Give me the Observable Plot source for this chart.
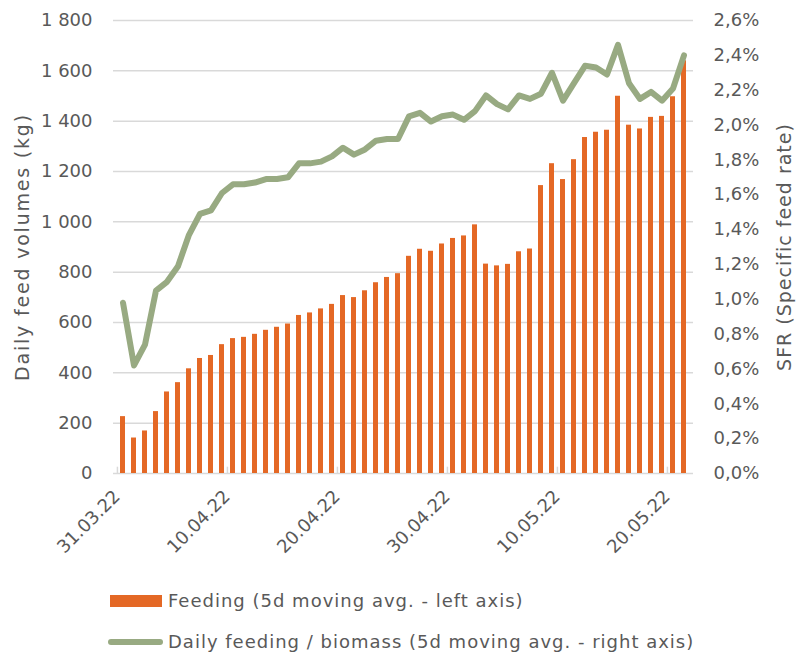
<!DOCTYPE html>
<html>
<head>
<meta charset="utf-8">
<script src="https://cdn.jsdelivr.net/npm/d3@7"></script>
<script src="https://cdn.jsdelivr.net/npm/@observablehq/plot@0.6"></script>
<style>
  body { margin: 0; background: #fff; }
  #wrap { position: relative; width: 796px; height: 654px; font-family: "DejaVu Sans", sans-serif; color: #595959; }
  .lg-text { position: absolute; left: 168px; font-size: 18px; line-height: 20px; letter-spacing: 1px; white-space: nowrap; color: #595959; }
</style>
</head>
<body>
<div id="wrap"></div>
<script>
// ---- data ----
const dates = [
  "31.03.22","01.04.22","02.04.22","03.04.22","04.04.22","05.04.22","06.04.22","07.04.22","08.04.22","09.04.22",
  "10.04.22","11.04.22","12.04.22","13.04.22","14.04.22","15.04.22","16.04.22","17.04.22","18.04.22","19.04.22",
  "20.04.22","21.04.22","22.04.22","23.04.22","24.04.22","25.04.22","26.04.22","27.04.22","28.04.22","29.04.22",
  "30.04.22","01.05.22","02.05.22","03.05.22","04.05.22","05.05.22","06.05.22","07.05.22","08.05.22","09.05.22",
  "10.05.22","11.05.22","12.05.22","13.05.22","14.05.22","15.05.22","16.05.22","17.05.22","18.05.22","19.05.22",
  "20.05.22","21.05.22"
];
const feed = [
  226,141,169,246,324,361,416,457,469,512,
  536,541,553,569,581,594,628,638,654,672,
  707,699,726,758,779,794,863,891,883,912,
  934,944,988,832,825,831,881,892,1144,1231,
  1168,1247,1335,1356,1364,1499,1384,1369,1415,1419,
  1497,1640
];
const sfr = [
  0.98,0.62,0.74,1.05,1.10,1.19,1.37,1.49,1.51,1.61,
  1.66,1.66,1.67,1.69,1.69,1.70,1.78,1.78,1.79,1.82,
  1.87,1.83,1.86,1.91,1.92,1.92,2.05,2.07,2.02,2.05,
  2.06,2.03,2.08,2.17,2.12,2.09,2.17,2.15,2.18,2.30,
  2.14,2.24,2.34,2.33,2.29,2.46,2.24,2.15,2.19,2.14,
  2.21,2.40
];
const xTickLabels = ["31.03.22","10.04.22","20.04.22","30.04.22","10.05.22","20.05.22"];
const leftTicks = [0,200,400,600,800,1000,1200,1400,1600,1800];
const rightTicks = [0,0.2,0.4,0.6,0.8,1.0,1.2,1.4,1.6,1.8,2.0,2.2,2.4,2.6];
const leftMax = 1800, rightMax = 2.6;
const leftTitle = "Daily feed volumes (kg)";
const rightTitle = "SFR (Specific feed rate)";
const legendBar = "Feeding (5d moving avg. - left axis)";
const legendLine = "Daily feeding / biomass (5d moving avg. - right axis)";

const orange = "#E46825";
const green = "#98AA82";
const grid = "#D9D9D9";
const ink = "#595959";

const table = dates.map((d, i) => ({date: d, feed: feed[i], sfr: sfr[i]}));
const toLeft = v => v * leftMax / rightMax;
const loc = d3.formatLocale({decimal: ",", thousands: "\u00a0", grouping: [3], currency: ["", ""]});
const fmtLeft = loc.format(",");
const fmtRight = v => v.toFixed(1).replace(".", ",") + "%";

const W = 796, H = 560, mL = 113, mR = 103, mT = 20, mB = 87;
const step = (W - mL - mR) / dates.length;

const chart = Plot.plot({
  width: W, height: H,
  marginLeft: mL, marginRight: mR, marginTop: mT, marginBottom: mB,
  style: {fontFamily: "DejaVu Sans, sans-serif", fontSize: "18px", color: ink, background: "#fff", overflow: "visible"},
  x: {type: "band", domain: dates, paddingInner: 0.55, paddingOuter: 0.275, axis: null},
  y: {domain: [0, leftMax], axis: null},
  marks: [
    Plot.gridY(leftTicks.slice(1), {stroke: grid, strokeOpacity: 1, strokeWidth: 1.5}),
    Plot.ruleY([0], {stroke: grid, strokeOpacity: 1, strokeWidth: 1.5}),
    Plot.ruleX(xTickLabels, {x: d => d, dx: -step / 2, y1: 0, y2: 25, stroke: grid, strokeWidth: 1.5}),
    Plot.barY(table, {x: "date", y: "feed", fill: orange}),
    Plot.line(table, {x: "date", y: d => toLeft(d.sfr), stroke: green, strokeWidth: 6, strokeLinejoin: "round", strokeLinecap: "round"}),
    Plot.axisY(leftTicks, {anchor: "left", tickSize: 0, tickPadding: 21, tickFormat: fmtLeft, label: null, fill: ink}),
    Plot.axisY(rightTicks.map(toLeft), {anchor: "right", tickSize: 0, tickPadding: 20, tickFormat: v => fmtRight(v * rightMax / leftMax), label: null, fill: ink}),
    Plot.text(xTickLabels, {x: d => d, text: d => d, frameAnchor: "bottom", rotate: -45, textAnchor: "end", lineAnchor: "middle", dx: -6, dy: 20, fill: ink, fontSize: 18}),
    Plot.text([leftTitle], {text: d => d, frameAnchor: "left", textAnchor: "middle", lineAnchor: "middle", dx: -91, rotate: -90, fill: ink, fontSize: 19}),
    Plot.text([rightTitle], {text: d => d, frameAnchor: "right", textAnchor: "middle", lineAnchor: "middle", dx: 91, rotate: -90, fill: ink, fontSize: 19})
  ]
});

// wider letter spacing for the titles (the reference face is wide)
d3.select(chart).selectAll("text").each(function() {
  const t = this.textContent;
  if (t === leftTitle) this.setAttribute("letter-spacing", "1.8");
  if (t === rightTitle) this.setAttribute("letter-spacing", "1");
});

const wrap = document.getElementById("wrap");
wrap.appendChild(chart);

// legend
const sw1 = document.createElement("div");
sw1.style.cssText = `position:absolute;left:110px;top:595px;width:52px;height:12px;background:${orange};`;
const t1 = document.createElement("div");
t1.className = "lg-text"; t1.style.top = "591px"; t1.textContent = legendBar;
const sw2 = document.createElement("div");
sw2.style.cssText = `position:absolute;left:108px;top:639px;width:55px;height:6px;border-radius:3px;background:${green};`;
const t2 = document.createElement("div");
t2.className = "lg-text"; t2.style.top = "632px"; t2.textContent = legendLine;
wrap.append(sw1, t1, sw2, t2);
</script>
</body>
</html>
